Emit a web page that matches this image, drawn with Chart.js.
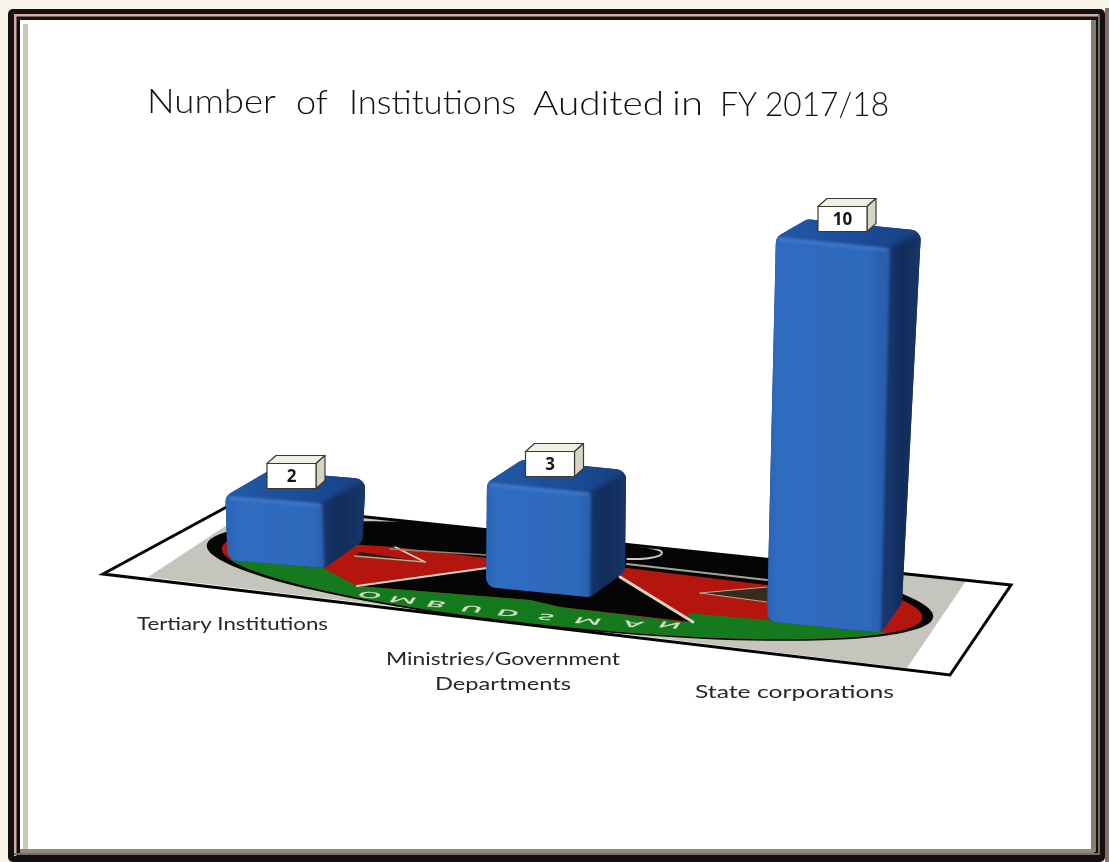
<!DOCTYPE html>
<html><head><meta charset="utf-8">
<style>html,body{margin:0;padding:0;background:#fff}canvas{display:block}</style>
<script src="https://cdn.jsdelivr.net/npm/chart.js@4"></script>
</head><body><canvas id="c" width="1109" height="862"></canvas>
<script>
const categories = [["Tertiary Institutions"], ["Ministries/Government", "Departments"], ["State corporations"]];
const values = [2, 3, 10];
const chartTitle = "Number of Institutions Audited in FY 2017/18";
const floorWord = "OMBUDSMAN";

// perspective of the 3-D scene, per bar
const VIEW = [
  {dx:0,  dy:4,  w:97,  slope:.085, lean:-2, top:[43,-25], foot:[38,-27], tag:15.5},
  {dx:-12,dy:32, w:104, slope:.1,   lean:1,  top:[35,-23], foot:[35,-26], tag:12},
  {dx:0,  dy:67, w:114, slope:.1,   lean:9,  top:[31,-18], foot:[21,-30], tag:18.5}
];
const LABEL_SPOTS = [
  {x:137, w:191, y:[630]},
  {x:386, w:234, y:[665,690], x2:435, w2:136},
  {x:695, w:199, y:[698]}
];
const TITLE_WORDS = [[147,129],[296,32],[349,167],[533,131],[672,31],[720,37],[765,124]];
const FONT = 'Lato, "Open Sans", sans-serif';

function poly(ctx, pts){ctx.beginPath();pts.forEach((p,i)=>i?ctx.lineTo(p[0],p[1]):ctx.moveTo(p[0],p[1]));ctx.closePath();}
function roundPoly(ctx, pts, r){
  const n=pts.length, mid=(a,b)=>[(a[0]+b[0])/2,(a[1]+b[1])/2];
  const s=mid(pts[n-1],pts[0]);
  ctx.beginPath();ctx.moveTo(s[0],s[1]);
  pts.forEach((p,i)=>{const q=pts[(i+1)%n],m=mid(p,q);ctx.arcTo(p[0],p[1],m[0],m[1],r);ctx.lineTo(m[0],m[1]);});
  ctx.closePath();
}
function fitted(ctx, text, x, y, width, size, color, weight){
  ctx.save();ctx.font=`${weight||400} ${size}px ${FONT}`;ctx.fillStyle=color;ctx.textAlign='left';ctx.textBaseline='alphabetic';
  const sx=width/ctx.measureText(text).width;
  ctx.translate(x,y);ctx.scale(sx,1);
  ctx.filter='blur(0.35px)';
  ctx.fillText(text,0,0);ctx.restore();
}
function drawFrame(ctx){
  ctx.fillStyle='#f8f5e8';ctx.fillRect(0,0,1109,862);
  ctx.fillStyle='#8a6a60';ctx.fillRect(1105,8,4,854);
  ctx.fillStyle='#111';ctx.beginPath();ctx.roundRect(8,9,1097,853,5);ctx.fill();
  ctx.fillStyle='#d9a9a0';ctx.fillRect(14,14,1086,2.5);ctx.fillRect(14,14,2.5,842);
  ctx.fillStyle='#7c6a62';ctx.fillRect(14,853,1086,2);ctx.fillRect(1098,14,2,841);
  ctx.fillStyle='#fff';ctx.fillRect(20,20,1074,832);
  ctx.fillStyle='#c9c9b6';ctx.fillRect(23,24,5,826);
  ctx.fillStyle='#7d8070';ctx.fillRect(1091,20,5,832);
  ctx.fillStyle='#8a8c7c';ctx.fillRect(20,849,1074,4);
}
function drawFloor(ctx){
  const FL=[[103,574],[234,503],[1011,585],[950,675]];
  ctx.save();ctx.filter='blur(0.6px)';
  ctx.save();poly(ctx,FL);ctx.fillStyle='#fff';ctx.fill();ctx.clip();
  poly(ctx,[[148,577],[265,500],[968,578],[907,668]]);ctx.fillStyle='#c6c5bd';ctx.fill();
  const ell=(cx,cy,a,b)=>{ctx.beginPath();ctx.ellipse(cx,cy,a,b,5.65*Math.PI/180,0,Math.PI*2);};
  ell(570,581,365,48);ctx.fillStyle='#060606';ctx.fill();
  ctx.save();ell(572,583,352,44.5);ctx.clip();
  ctx.fillStyle='#050505';ctx.fillRect(100,500,900,200);
  poly(ctx,[[190,530],[363,545],[395,547],[487,558],[627,568],[767,585],[960,603],[960,680],[190,680]]);ctx.fillStyle='#b5150f';ctx.fill();
  poly(ctx,[[357,586],[487,568],[590,556],[620,577],[693,622],[560,607],[530,600]]);ctx.fillStyle='#050505';ctx.fill();
  poly(ctx,[[190,556],[323,568],[357,586],[530,600],[560,607],[685,622],[693,622],[687,613],[767,620],[880,632],[960,640],[960,680],[190,680]]);ctx.fillStyle='#157a1e';ctx.fill();
  poly(ctx,[[355,556],[425,562],[360,552]]);ctx.fillStyle='#2a1c12';ctx.fill();
  poly(ctx,[[700,593],[767,587],[767,602]]);ctx.fillStyle='#3a2a1e';ctx.fill();
  ctx.lineCap='round';
  const line=(pts,c,w)=>{ctx.beginPath();pts.forEach((p,i)=>i?ctx.lineTo(p[0],p[1]):ctx.moveTo(p[0],p[1]));ctx.strokeStyle=c;ctx.lineWidth=w;ctx.stroke();};
  line([[357,586],[487,568],[590,556]],'#d8d4c4',2);
  line([[620,577],[693,622]],'#d8d4c4',3);
  line([[395,547],[425,562]],'#d8d4c4',1.5);
  line([[355,556],[425,562]],'#b0aa98',1.5);
  line([[390,549],[487,555]],'#8a8678',1.5);
  line([[627,564],[767,580]],'#a8a494',2);
  line([[700,593],[767,587]],'#b0aa98',1.2);
  line([[700,593],[767,602]],'#b0aa98',1.2);
  ctx.beginPath();ctx.ellipse(625,552,37,7,.03,-1.2,1.5);ctx.strokeStyle='#cfcbbb';ctx.lineWidth=2;ctx.stroke();
  const spots=[[372,597],[405,602],[438,606],[474,611],[510,615],[548,619],[590,623],[635,626],[672,627]];
  [...floorWord].forEach((ch,i)=>{
    ctx.save();ctx.setTransform(2.3,.2,.5,-.7,spots[i][0],spots[i][1]-5);
    ctx.font=`bold 12px ${FONT}`;ctx.fillStyle='#cfdcc2';ctx.textAlign='center';ctx.fillText(ch,0,0);ctx.restore();
  });
  ctx.restore();
  ctx.restore();
  poly(ctx,FL);ctx.strokeStyle='#050505';ctx.lineWidth=3;ctx.lineJoin='miter';ctx.stroke();
  ctx.restore();
}
function drawBar(ctx,el,v,floorY){
  const cx=el.x+v.dx, topY=el.y+v.dy, baseY=Math.min(el.base,floorY)+v.dy, hw=v.w/2;
  const tl=[cx+v.lean-hw,topY-hw*v.slope],tr=[cx+v.lean+hw,topY+hw*v.slope];
  const bl=[cx-hw,baseY-hw*v.slope],br=[cx+hw,baseY+hw*v.slope];
  const add=(p,d)=>[p[0]+d[0],p[1]+d[1]];
  const btl=add(tl,v.top),btr=add(tr,v.top),bbr=add(br,v.foot);
  ctx.save();
  roundPoly(ctx,[tl,btl,btr,bbr,br,bl],10);ctx.fillStyle='#17396f';ctx.fill();ctx.clip();
  ctx.filter='blur(2px)';
  let g=ctx.createLinearGradient(tl[0],0,btr[0],0);
  g.addColorStop(0,'#2259a8');g.addColorStop(.6,'#1b4c96');g.addColorStop(1,'#173f80');
  ctx.fillStyle=g;ctx.fillRect(tl[0]-10,btl[1]-10,btr[0]-tl[0]+20,tr[1]-btl[1]+20);
  poly(ctx,[[tr[0]-4,tr[1]],[btr[0]+5,btr[1]],[bbr[0]+5,bbr[1]+8],[br[0]-4,br[1]+8]]);
  g=ctx.createLinearGradient(tr[0],0,btr[0],0);
  g.addColorStop(0,'#16366d');g.addColorStop(.4,'#122c5b');g.addColorStop(1,'#173768');
  ctx.fillStyle=g;ctx.fill();
  ctx.filter='blur(1.5px)';
  g=ctx.createLinearGradient(bl[0],0,br[0],0);
  g.addColorStop(0,'#2c64b4');g.addColorStop(.1,'#2f6bbf');g.addColorStop(.88,'#2e69bb');g.addColorStop(1,'#2a5fae');
  roundPoly(ctx,[tl,tr,[br[0],br[1]+8],[bl[0]-4,bl[1]+8],[tl[0]-6,tl[1]]],5);
  ctx.fillStyle=g;ctx.fill();
  ctx.strokeStyle='rgba(85,140,215,.55)';ctx.lineWidth=3;ctx.lineCap='round';
  ctx.beginPath();ctx.moveTo(tl[0]+4,tl[1]+2);ctx.lineTo(tr[0]-2,tr[1]+1);ctx.stroke();
  ctx.restore();
  return {x:cx+v.tag,y:topY-24};
}
function drawTag(ctx,p,text){
  const w=49,h=25,dx=9,dy=-8,x=p.x-w/2,y=p.y-h/2;
  ctx.save();ctx.strokeStyle='#3b3a30';ctx.lineWidth=1.2;ctx.lineJoin='round';
  poly(ctx,[[x,y],[x+dx,y+dy],[x+w+dx,y+dy],[x+w,y]]);ctx.fillStyle='#f1f0e4';ctx.fill();ctx.stroke();
  poly(ctx,[[x+w,y],[x+w+dx,y+dy],[x+w+dx,y+h+dy],[x+w,y+h]]);ctx.fillStyle='#d6d4c4';ctx.fill();ctx.stroke();
  ctx.fillStyle='#fff';ctx.fillRect(x,y,w,h);ctx.strokeRect(x,y,w,h);
  ctx.fillStyle='#161616';ctx.font='bold 17px "Noto Sans","Liberation Sans",sans-serif';ctx.textAlign='center';ctx.textBaseline='middle';
  ctx.fillText(text,x+w/2,y+h/2+1);ctx.restore();
}
const scene={
  id:'scene',
  beforeDraw(chart){const c=chart.ctx;drawFrame(c);drawFloor(c);},
  beforeDatasetDraw(chart,args){
    const c=chart.ctx, meta=chart.getDatasetMeta(args.index);
    const spots=meta.data.map((el,i)=>drawBar(c,el,VIEW[i],chart.chartArea.bottom));
    spots.forEach((p,i)=>drawTag(c,p,String(chart.data.datasets[args.index].data[i])));
    return false;
  },
  afterDraw(chart){
    const c=chart.ctx;
    chartTitle.split(' ').forEach((t,i)=>{
      const [x,w]=TITLE_WORDS[i];
      fitted(c,t,x,113+(x-147)*.0045,w,33,'#111',300);
    });
    chart.data.labels.forEach((lines,i)=>{
      const s=LABEL_SPOTS[i];
      lines.forEach((t,j)=>fitted(c,t,j?s.x2:s.x,s.y[j],j?s.w2:s.w,17,'#2a2622'));
    });
  }
};
new Chart(document.getElementById('c'),{
  type:'bar',
  data:{labels:categories,datasets:[{data:values,backgroundColor:'#2f6cc2',borderWidth:0,barThickness:104}]},
  plugins:[scene],
  options:{
    responsive:false,animation:false,devicePixelRatio:1,
    layout:{padding:{left:139,right:148,top:176,bottom:302}},
    plugins:{legend:{display:false},tooltip:{enabled:false},title:{display:false}},
    scales:{x:{display:false},y:{display:false,min:.4,max:10}}
  }
});
</script></body></html>
